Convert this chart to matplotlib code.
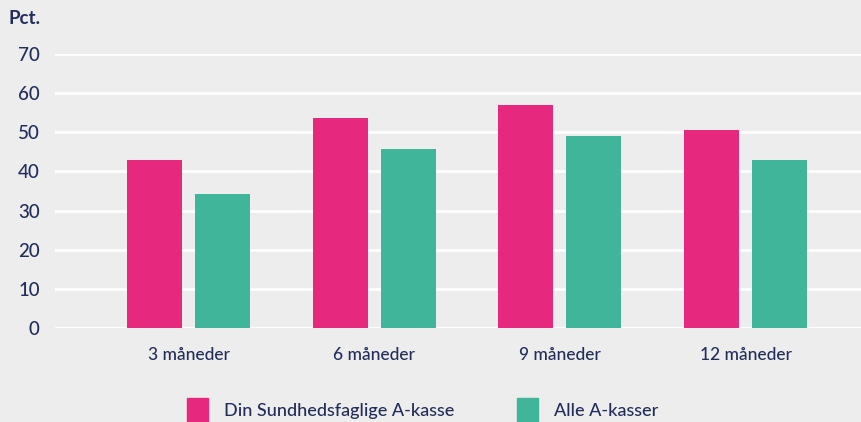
import matplotlib.pyplot as plt
import matplotlib.patches as mpatches
import numpy as np

# data
categories = ["3 måneder", "6 måneder", "9 måneder", "12 måneder"]
sundhed = [42.9, 53.7, 57.0, 50.6]
alle = [34.2, 45.7, 49.1, 42.9]
series_names = ["Din Sundhedsfaglige A-kasse", "Alle A-kasser"]
yticks = [0, 10, 20, 30, 40, 50, 60, 70]

pink = "#E6287F"
green = "#41B59A"
bg = "#EDEDED"
navy = "#232D5A"

plt.rcParams['font.family'] = ['Lato', 'DejaVu Sans']
plt.rcParams['font.weight'] = 'medium'

W, H = 861, 422
fig = plt.figure(figsize=(W / 100, H / 100), dpi=100)
fig.patch.set_facecolor(bg)

# axes placed in pixel terms
left, right, top, bottom = 55, 861, 54, 328
ax = fig.add_axes([left / W, 1 - bottom / H, (right - left) / W, (bottom - top) / H])
ax.set_facecolor(bg)

x = np.arange(len(categories))
width = 0.296
off = 0.183
ax.bar(x - off, sundhed, width, color=pink, zorder=3)
ax.bar(x + off, alle, width, color=green, zorder=3)

ax.set_ylim(0, 70)
ax.set_xlim(-0.719, 3.621)
ax.set_yticks(yticks)
ax.set_yticklabels([str(t) for t in yticks], fontsize=13.5, color=navy)
ax.set_xticks(x)
ax.set_xticklabels(categories, fontsize=12.5, color=navy)
ax.tick_params(axis='y', length=0, pad=11)
ax.tick_params(axis='x', length=0, pad=14)
for s in ax.spines.values():
    s.set_visible(False)
for t in yticks:
    ax.axhline(t, color="white", linewidth=2, zorder=1)

fig.text(8 / W, 1 - 18 / H, "Pct.", fontsize=13.5, fontweight="bold",
         color=navy, va="center", ha="left")

# legend drawn by hand, squares run off the bottom edge
leg_y = 1 - 411 / H
for px, name, col in [(187, series_names[0], pink), (517, series_names[1], green)]:
    fig.patches.append(mpatches.Rectangle((px / W, 1 - 422 / H), 21 / W, 24 / H,
                                          transform=fig.transFigure, color=col))
    fig.text((px + 37) / W, leg_y, name, fontsize=13, color=navy, va="center", ha="left")

fig.savefig("out.png", dpi=100, facecolor=bg)
